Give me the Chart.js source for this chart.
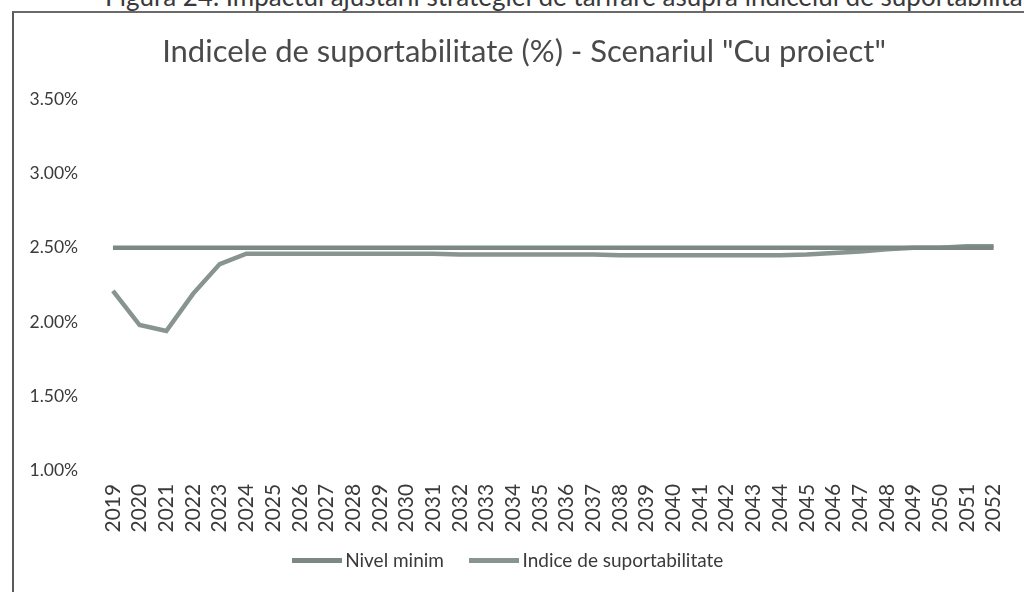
<!DOCTYPE html>
<html>
<head>
<meta charset="utf-8">
<script src="https://cdn.jsdelivr.net/npm/chart.js@4.4.0/dist/chart.umd.min.js"></script>
<style>
  html, body { margin: 0; padding: 0; background: #fff; }
  body { width: 1024px; height: 592px; position: relative; overflow: hidden; }
  #caption {
    position: absolute; left: 105px; top: -19px; white-space: nowrap; line-height: 1.2;
    font-family: Lato, sans-serif; font-size: 26px; color: #3a3a3a;
  }
  #frame {
    position: absolute; left: 12px; top: 11px; width: 1030px; height: 600px;
    border-left: 2px solid #5a5a5a; border-top: 2px solid #6a6a6a;
  }
  #wrap { position: absolute; left: 0; top: 0; width: 1024px; height: 592px; }
</style>
</head>
<body>
<div id="caption">Figura 24. Impactul ajustării strategiei de tarifare asupra indicelui de suportabilitate</div>
<div id="frame"></div>
<div id="wrap"><canvas id="chart"></canvas></div>
<script>
const years = ['2019', '2020', '2021', '2022', '2023', '2024', '2025', '2026', '2027', '2028',
  '2029', '2030', '2031', '2032', '2033', '2034', '2035', '2036', '2037', '2038',
  '2039', '2040', '2041', '2042', '2043', '2044', '2045', '2046', '2047', '2048',
  '2049', '2050', '2051', '2052'];

// Nivel minim (%)
const nivelMinim = [2.5, 2.5, 2.5, 2.5, 2.5, 2.5, 2.5, 2.5, 2.5, 2.5,
  2.5, 2.5, 2.5, 2.5, 2.5, 2.5, 2.5, 2.5, 2.5, 2.5,
  2.5, 2.5, 2.5, 2.5, 2.5, 2.5, 2.5, 2.5, 2.5, 2.5,
  2.5, 2.5, 2.5, 2.5];

// Indice de suportabilitate (%)
const indice = [2.21, 1.98, 1.94, 2.19, 2.39, 2.46, 2.46, 2.46, 2.46, 2.46,
  2.46, 2.46, 2.46, 2.455, 2.455, 2.455, 2.455, 2.455, 2.455, 2.45,
  2.45, 2.45, 2.45, 2.45, 2.45, 2.45, 2.455, 2.465, 2.475, 2.49,
  2.5, 2.5, 2.51, 2.51];

const yTicks = [1.0, 1.5, 2.0, 2.5, 3.0, 3.5];

const colorMinim = '#7b8884';
const colorIndice = '#87948f';

// short line samples for the legend (the scan shows them almost touching the text)
function legendLine(color) {
  const c = document.createElement('canvas');
  c.width = 50;
  c.height = 5;
  const g = c.getContext('2d');
  g.fillStyle = color;
  g.fillRect(0, 0, 50, 5);
  return c;
}

// nudge title right and legend up, like in the scan
const nudgeBoxes = {
  id: 'nudgeBoxes',
  afterLayout(chart) {
    if (chart.titleBlock) {
      chart.titleBlock.left += 13.5;
      chart.titleBlock.right += 13.5;
    }
    if (chart.legend) {
      chart.legend.top -= 11.6;
      chart.legend.bottom -= 11.6;
    }
  }
};

const ctx = document.getElementById('chart').getContext('2d');

new Chart(ctx, {
  type: 'line',
  data: {
    labels: years,
    datasets: [{
      label: 'Nivel minim',
      data: nivelMinim,
      borderColor: colorMinim,
      backgroundColor: colorMinim,
      pointStyle: legendLine(colorMinim),
      borderWidth: 4.5,
      pointRadius: 0,
      tension: 0
    }, {
      label: 'Indice de suportabilitate',
      data: indice,
      borderColor: colorIndice,
      backgroundColor: colorIndice,
      pointStyle: legendLine(colorIndice),
      borderWidth: 4.5,
      pointRadius: 0,
      tension: 0
    }]
  },
  plugins: [nudgeBoxes],
  options: {
    responsive: true,
    maintainAspectRatio: false,
    animation: false,
    layout: { padding: { top: 29, left: 13, right: 16, bottom: 0 } },
    plugins: {
      title: {
        display: true,
        text: 'Indicele de suportabilitate (%) - Scenariul "Cu proiect"',
        color: '#4a4a4a',
        font: { family: 'Lato', size: 31, weight: 'normal' },
        padding: { top: 4, bottom: 28.8 }
      },
      legend: {
        position: 'bottom',
        labels: {
          usePointStyle: true,
          pointStyleWidth: 38,
          color: '#3a3a3a',
          padding: 31,
          font: { family: 'Lato', size: 19 }
        }
      },
      tooltip: { enabled: false }
    },
    scales: {
      x: {
        offset: true,
        grid: { display: false },
        border: { display: false },
        ticks: {
          minRotation: 90,
          maxRotation: 90,
          autoSkip: false,
          padding: 5,
          color: '#3a3a3a',
          font: { family: 'Lato', size: 21 }
        },
        afterFit: scale => { scale.height = 61.2; }
      },
      y: {
        min: 1.0,
        max: 3.5,
        grid: { display: false },
        border: { display: false },
        afterBuildTicks: scale => { scale.ticks = yTicks.map(v => ({ value: v })); },
        afterFit: scale => { scale.width = 86.6; },
        ticks: {
          padding: 13.5,
          color: '#3a3a3a',
          font: { family: 'Lato', size: 17.5 },
          callback: v => v.toFixed(2) + '%'
        }
      }
    }
  }
});
</script>
</body>
</html>
